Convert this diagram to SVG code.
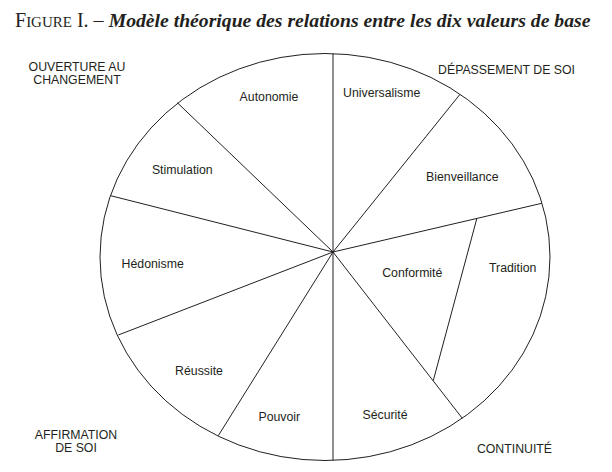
<svg xmlns="http://www.w3.org/2000/svg" width="612" height="472" viewBox="0 0 612 472">
<style>
.lbl{font-family:"Liberation Sans",Arial,sans-serif;font-size:12.3px;fill:#231f20;text-anchor:middle}
.ln{stroke:#231f20;stroke-width:1;fill:none}
.title{font-family:"Liberation Serif","Times New Roman",serif;fill:#231f20}
</style>
<rect width="612" height="472" fill="#ffffff"/>
<text class="title" x="15" y="27"><tspan font-size="20">F</tspan><tspan font-size="15">IGURE</tspan><tspan font-size="20"> I. – </tspan><tspan font-size="19.7" font-weight="bold" font-style="italic">Modèle théorique des relations entre les dix valeurs de base</tspan></text>
<g id="outline">
<ellipse class="ln" cx="325" cy="257" rx="225" ry="203.5"/>
</g>
<g id="connectors">
<line class="ln" x1="333" y1="252" x2="333" y2="53.5"/>
<line class="ln" x1="333" y1="252" x2="333" y2="460.5"/>
<line class="ln" x1="333" y1="252" x2="177.3" y2="102.7"/>
<line class="ln" x1="333" y1="252" x2="110.7" y2="195.7"/>
<line class="ln" x1="333" y1="252" x2="460" y2="94.3"/>
<line class="ln" x1="333" y1="252" x2="541.7" y2="203.3"/>
<line class="ln" x1="333" y1="252" x2="118.3" y2="335"/>
<line class="ln" x1="333" y1="252" x2="218.3" y2="435.7"/>
<line class="ln" x1="333" y1="252" x2="462.3" y2="418.3"/>
<line class="ln" x1="476.7" y1="219" x2="433.3" y2="380.5"/>
</g>
<g id="autonomie"><text class="lbl" x="269" y="101">Autonomie</text></g>
<g id="universalisme"><text class="lbl" x="381.7" y="97">Universalisme</text></g>
<g id="stimulation"><text class="lbl" x="182.3" y="174.3">Stimulation</text></g>
<g id="bienveillance"><text class="lbl" x="462.3" y="181">Bienveillance</text></g>
<g id="hedonisme"><text class="lbl" x="152.7" y="268.3">Hédonisme</text></g>
<g id="conformite"><text class="lbl" x="412.3" y="277">Conformité</text></g>
<g id="tradition"><text class="lbl" x="512.7" y="271.6">Tradition</text></g>
<g id="reussite"><text class="lbl" x="199" y="375.3">Réussite</text></g>
<g id="pouvoir"><text class="lbl" x="279.3" y="421">Pouvoir</text></g>
<g id="securite"><text class="lbl" x="385" y="419">Sécurité</text></g>
<g id="ouverture"><text class="lbl" x="77" y="71.3">OUVERTURE AU</text><text class="lbl" x="77" y="84.3">CHANGEMENT</text></g>
<g id="depassement"><text class="lbl" x="506.5" y="73.6">DÉPASSEMENT DE SOI</text></g>
<g id="affirmation"><text class="lbl" x="76" y="439.3">AFFIRMATION</text><text class="lbl" x="76" y="452.3">DE SOI</text></g>
<g id="continuite"><text class="lbl" x="514.5" y="453.3">CONTINUITÉ</text></g>
</svg>
